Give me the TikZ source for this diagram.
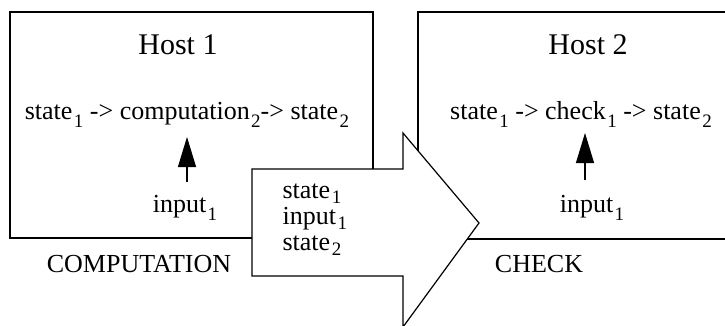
\documentclass[tikz,border=0pt]{standalone}
\usepackage{fontspec}
\setmainfont{Liberation Serif}
\usetikzlibrary{arrows.meta}
% lowered, slightly smaller index; optional argument sets the drop
\newcommand{\idx}[2][8pt]{\kern1.5pt\raisebox{-#1}{\fontsize{19}{19}\selectfont #2}}
\begin{document}
\begin{tikzpicture}[x=1pt,y=-1pt,
  line width=1.2pt,
  txt/.style={inner sep=0pt,anchor=base,font=\fontsize{26}{26}\selectfont},
  title/.style={inner sep=0pt,anchor=base,font=\fontsize{30}{30}\selectfont},
  hostbox/.style={draw,rectangle,inner sep=0pt},
  inarrow/.style={line width=1.2pt,-{Triangle[length=30pt,width=18pt]}},
  bigarrow/.style={draw,fill=white,line join=miter}]
\useasboundingbox (0,0) rectangle (725,326);
\clip (0,0) rectangle (725,326);

% Host 1
\draw[hostbox] (10,12) rectangle (373,238);
\node[title] (h1) at (178,55) {Host 1};
\node[txt] (c1) at (187,120) {state\idx{1} -> computation\idx{2}-> state\idx{2}};
\node[txt] (i1) at (185,212) {input\idx{1}};
\node[txt] (lab1) at (139,272) {COMPUTATION};
\coordinate (a1s) at (187,182);
\coordinate (a1e) at (187,137);
\draw[inarrow] (a1s) -- (a1e);

% Host 2 (continues past the right edge)
\draw[hostbox] (418,12) rectangle (760,239);
\node[title] (h2) at (588,55) {Host 2};
\node[txt] (c2) at (581,120) {state\idx{1} -> check\idx{1} -> state\idx{2}};
\node[txt] (i2) at (592,212) {input\idx{1}};
\node[txt] (lab2) at (539,272) {CHECK};
\coordinate (a2s) at (585,180);
\coordinate (a2e) at (585,133);
\draw[inarrow] (a2s) -- (a2e);

% transfer arrow
\draw[bigarrow] (252,169) -- (403,169) -- (403,133) -- (479,223)
  -- (403,327) -- (403,276) -- (252,276) -- cycle;
\node[txt,anchor=base west] (m1) at (282,198) {state\idx[5pt]{1}};
\node[txt,anchor=base west] (m2) at (282,224) {input\idx[5pt]{1}};
\node[txt,anchor=base west] (m3) at (282,250) {state\idx[5pt]{2}};
\end{tikzpicture}
\end{document}
